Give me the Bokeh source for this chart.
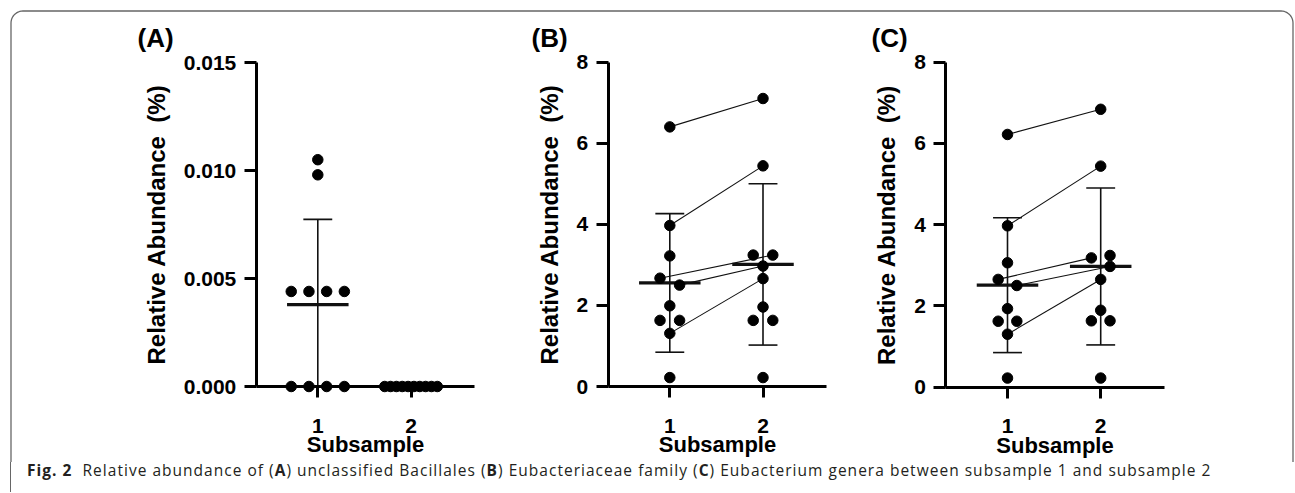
import numpy as np
from bokeh.plotting import figure
from bokeh.models import (Range1d, LinearAxis, FixedTicker, NumeralTickFormatter,
                          Label, Div)
from bokeh.layouts import column
from bokeh.embed import file_html
from bokeh.resources import INLINE

# ---------------- data ----------------
groups = [1, 2]
tick_labels_x = ["1", "2"]

a_sub1 = [0.0105, 0.0098, 0.0044, 0.0044, 0.0044, 0.0044, 0.0, 0.0, 0.0, 0.0]
a_sub2 = [0.0, 0.0, 0.0, 0.0, 0.0, 0.0, 0.0, 0.0, 0.0, 0.0]
a_ticks = [0.0, 0.005, 0.010, 0.015]

b_sub1 = [6.40, 3.97, 3.22, 2.67, 2.50, 1.99, 1.63, 1.63, 1.31, 0.22]
b_sub2 = [7.10, 5.44, 3.24, 3.24, 2.97, 2.66, 1.96, 1.63, 1.63, 0.22]
b_pairs = [(0, 0), (1, 1), (3, 3), (4, 4), (8, 5)]

c_sub1 = [6.22, 3.97, 3.06, 2.65, 2.50, 1.93, 1.62, 1.62, 1.30, 0.22]
c_sub2 = [6.84, 5.44, 3.18, 3.24, 2.97, 2.65, 1.89, 1.63, 1.63, 0.22]
c_pairs = [(0, 0), (1, 1), (3, 2), (4, 4), (8, 5)]

bc_ticks = [0, 2, 4, 6, 8]

panel_letters = ["(A)", "(B)", "(C)"]
y_title = "Relative Abundance\u00a0 (%)"
x_title = "Subsample"

# ---------------- layout (scatter spread of overlapping points) ----------------
a_off1 = [0, 0, -0.285, -0.095, 0.095, 0.285, -0.285, -0.095, 0.095, 0.285]
a_off2 = list(np.linspace(-0.282, 0.282, 10))
b_off1 = [0, 0, 0, -0.105, 0.105, 0, -0.105, 0.105, 0, 0]
b_off2 = [0, 0, -0.105, 0.105, 0, 0, 0, -0.105, 0.105, 0]
c_off1 = [0, 0, 0, -0.1, 0.1, 0, -0.1, 0.1, 0, 0]
c_off2 = [0, 0, -0.1, 0.1, 0.1, 0, 0, -0.1, 0.1, 0]

W, H = 1295, 462
SX = 93.2  # px per x unit

p = figure(width=W, height=H, output_backend="svg", toolbar_location=None,
           x_range=Range1d(0, W), y_range=Range1d(H, 0),
           x_axis_type=None, y_axis_type=None, min_border=0)
p.outline_line_color = None
p.background_fill_color = "white"
p.border_fill_color = "white"
p.title.visible = False

# rounded frame (open at the bottom), pixel coords
L, R, T, RAD = 10.5, 1292.5, 10.5, 12.0
t1 = np.linspace(np.pi, 1.5 * np.pi, 12)
t2 = np.linspace(1.5 * np.pi, 2 * np.pi, 12)
fx = np.concatenate([[L], L + RAD + RAD * np.cos(t1), R - RAD + RAD * np.cos(t2), [R]])
fy = np.concatenate([[H + 5], T + RAD + RAD * np.sin(t1), T + RAD + RAD * np.sin(t2), [H + 5]])
p.line(fx, fy, line_color="#666666", line_width=1.3)

FONT = "Liberation Sans"


def add_panel(name, s1, s2, off1, off2, pairs, ticks, fmt, x1_px, y0_px, ytop_px,
              letter, letter_px, clip_zero=False):
    ytop = ticks[-1]
    xs = 1 - x1_px / SX
    p.extra_x_ranges[name] = Range1d(xs, xs + W / SX)
    sy = (y0_px - ytop_px) / ytop
    ys = -(H - y0_px) / sy
    p.extra_y_ranges[name] = Range1d(ys, ys + H / sy)
    kw = dict(x_range_name=name, y_range_name=name)

    xa = np.array(groups[0] + np.array(off1), dtype=float)
    xb = np.array(groups[1] + np.array(off2), dtype=float)
    ya = np.array(s1, dtype=float)
    yb = np.array(s2, dtype=float)

    # connecting lines
    if pairs:
        p.segment([xa[i] for i, j in pairs], [ya[i] for i, j in pairs],
                  [xb[j] for i, j in pairs], [yb[j] for i, j in pairs],
                  line_color="#111111", line_width=1.1, **kw)

    # mean +/- SD
    for g, vals in zip(groups, (ya, yb)):
        m = vals.mean()
        sd = vals.std(ddof=1)
        lo, hi = m - sd, m + sd
        if clip_zero:
            lo = max(lo, 0.0)
        p.segment([g], [lo], [g], [hi], line_color="#111111", line_width=1.6, **kw)
        p.segment([g - 0.155, g - 0.155], [hi, lo], [g + 0.155, g + 0.155], [hi, lo],
                  line_color="#111111", line_width=1.6, **kw)
        p.segment([g - 0.33], [m], [g + 0.33], [m], line_color="#111111",
                  line_width=3.2, **kw)

    p.scatter(np.concatenate([xa, xb]), np.concatenate([ya, yb]), size=10.5,
              color="black", **kw)

    # axes
    yax = LinearAxis(fixed_location=0.34, bounds=(0, ytop),
                     ticker=FixedTicker(ticks=ticks),
                     formatter=NumeralTickFormatter(format=fmt),
                     axis_label=y_title, **kw)
    yax.axis_line_width = 3
    yax.major_tick_line_width = 3
    yax.major_tick_out = 12
    yax.major_tick_in = 0
    yax.minor_tick_out = 0
    yax.minor_tick_in = 0
    yax.major_label_standoff = 8
    yax.major_label_text_font = FONT
    yax.major_label_text_font_style = "bold"
    yax.major_label_text_font_size = "21px"
    yax.major_label_text_color = "black"
    yax.axis_label_text_font = FONT
    yax.axis_label_text_font_style = "bold"
    yax.axis_label_text_font_size = "24px"
    yax.axis_label_text_color = "black"
    yax.axis_label_standoff = 11
    p.add_layout(yax, "left")

    xax = LinearAxis(fixed_location=0, bounds=(0.34, 2.68),
                     ticker=FixedTicker(ticks=groups),
                     major_label_overrides={g: t for g, t in zip(groups, tick_labels_x)},
                     axis_label=x_title, **kw)
    xax.axis_line_width = 3
    xax.major_tick_line_width = 3
    xax.major_tick_out = 11
    xax.major_tick_in = 0
    xax.minor_tick_out = 0
    xax.minor_tick_in = 0
    xax.major_label_standoff = 21
    xax.major_label_text_font = FONT
    xax.major_label_text_font_style = "bold"
    xax.major_label_text_font_size = "21px"
    xax.major_label_text_color = "black"
    xax.axis_label_text_font = FONT
    xax.axis_label_text_font_style = "bold"
    xax.axis_label_text_font_size = "22px"
    xax.axis_label_text_color = "black"
    xax.axis_label_standoff = -4
    p.add_layout(xax, "below")

    p.add_layout(Label(x=letter_px[0], y=letter_px[1], text=letter,
                       text_font=FONT, text_font_style="bold", text_font_size="26px",
                       text_baseline="top", text_align="left", text_color="black"))


add_panel("A", a_sub1, a_sub2, a_off1, a_off2, [], a_ticks, "0.000",
          317.3, 386, 62, panel_letters[0], (137, 22), clip_zero=True)
add_panel("B", b_sub1, b_sub2, b_off1, b_off2, b_pairs, bc_ticks, "0",
          669.3, 386, 61.5, panel_letters[1], (531, 22))
add_panel("C", c_sub1, c_sub2, c_off1, c_off2, c_pairs, bc_ticks, "0",
          1007, 386.5, 61.7, panel_letters[2], (871, 22))

caption_html = (
    '<div style="margin-left:10px;border-left:1.3px solid #666666;height:30px;'
    'box-sizing:border-box;padding-left:16px;padding-top:0px;'
    "font-family:'Open Sans';font-size:15.5px;line-height:16px;color:#231f20;"
    'letter-spacing:1.02px;white-space:nowrap;">'
    '<b>Fig. 2</b>&nbsp; Relative abundance of (<b>A</b>) unclassified Bacillales '
    '(<b>B</b>) Eubacteriaceae family (<b>C</b>) Eubacterium genera between '
    'subsample 1 and subsample 2</div>'
)
cap = Div(text=caption_html, width=W, height=30, margin=(0, 0, 0, 0))

layout = column(p, cap, spacing=0)
open("out.html", "w").write(file_html(layout, INLINE))
